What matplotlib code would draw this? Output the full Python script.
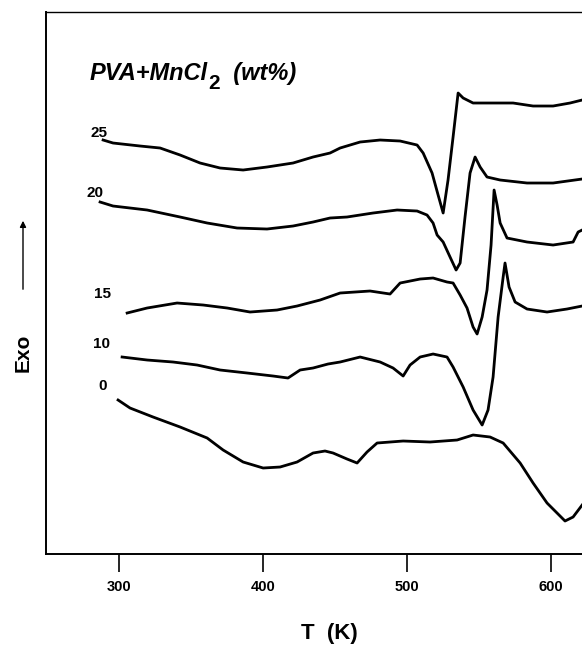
import matplotlib
matplotlib.use("Agg")
import matplotlib.pyplot as plt

plt.rcParams['font.family'] = ['Liberation Sans', 'DejaVu Sans']

# DSC traces of PVA + MnCl2 films (T in K, signal in a.u.)
t_25 = [288.9, 295.8, 314.6, 328.5, 342.4, 356.3, 370.2, 386.2, 402.8, 420.9,
        434.8, 446.6, 453.6, 467.5, 481.4, 495.3, 507.1, 511.3, 517.5, 521.7,
        525.2, 528.6, 532.1, 535.6, 539.1, 546.0, 559.9, 573.8, 587.7, 601.6,
        613.4, 621.8]
s_25 = [414, 411, 408, 406, 399, 391, 386, 384, 387, 391,
        397, 401, 406, 412, 414, 413, 409, 401, 381, 359,
        341, 374, 417, 461, 456, 451, 451, 451, 448, 448,
        451, 454]

t_20 = [286.8, 295.8, 319.5, 342.4, 361.2, 382.0, 402.8, 420.9, 434.8, 446.6,
        458.4, 476.5, 493.2, 507.1, 514.0, 518.2, 521.0, 525.2, 530.0, 534.2,
        537.0, 540.4, 543.9, 547.4, 550.9, 555.7, 564.8, 583.5, 601.6, 621.8]
s_20 = [352, 348, 344, 337, 331, 326, 325, 328, 332, 336,
        337, 341, 344, 343, 339, 331, 319, 312, 297, 284,
        291, 337, 381, 397, 387, 377, 374, 371, 371, 375]

t_15 = [305.6, 319.5, 340.3, 358.4, 375.1, 391.0, 409.8, 423.7, 439.7, 453.6,
        474.4, 488.3, 495.3, 509.2, 518.2, 527.9, 532.1, 537.0, 541.8, 546.0,
        548.8, 552.3, 555.7, 558.5, 560.6, 562.7, 564.8, 569.6, 583.5, 601.6,
        615.5, 619.0, 621.8]
s_15 = [241, 246, 251, 249, 246, 242, 244, 248, 254, 261,
        263, 260, 271, 275, 276, 272, 271, 259, 246, 227,
        220, 237, 264, 309, 364, 349, 331, 316, 312, 309,
        312, 322, 324]

t_10 = [302.1, 319.5, 337.5, 354.2, 370.2, 389.0, 407.0, 417.4, 425.8, 434.8,
        445.2, 453.6, 467.5, 481.4, 490.4, 497.4, 502.2, 509.2, 518.2, 527.9,
        532.1, 539.1, 546.0, 552.3, 556.4, 559.9, 563.4, 566.9, 568.2, 571.0,
        575.2, 583.5, 597.4, 611.3, 621.8]
s_10 = [197, 194, 192, 189, 184, 181, 178, 176, 184, 186,
        190, 192, 197, 192, 186, 178, 189, 197, 200, 197,
        187, 167, 144, 129, 144, 177, 237, 277, 291, 267,
        252, 245, 242, 245, 248]

t_0 = [299.3, 307.6, 323.6, 342.4, 361.2, 372.3, 386.2, 400.1, 411.9, 423.7,
       434.8, 443.1, 448.7, 458.4, 465.4, 472.3, 479.3, 497.4, 516.1, 534.9,
       546.0, 557.8, 566.9, 578.7, 587.7, 597.4, 609.9, 615.5, 621.8]
s_0 = [154, 146, 137, 127, 116, 104, 92, 86, 87, 92,
       101, 103, 101, 95, 91, 102, 111, 113, 112, 114,
       119, 117, 111, 91, 71, 51, 33, 37, 49]

curves = [("25", t_25, s_25), ("20", t_20, s_20), ("15", t_15, s_15),
          ("10", t_10, s_10), ("0", t_0, s_0)]
xticks = [300, 400, 500, 600]

fig = plt.figure(figsize=(5.82, 6.46), dpi=100)
# axes runs past the right edge, like the cropped scan
ax = fig.add_axes([0.0785, 0.1424, 0.9915, 0.839])

for name, t, s in curves:
    ax.plot(t, s, color="black", lw=2.0, solid_joinstyle="round")

# wt% labels just left of each trace start
label_pos = {"25": (286.1, 421), "20": (283.3, 361), "15": (288.2, 260),
             "10": (287.5, 210), "0": (288.9, 168)}
for name, t, s in curves:
    lx, ly = label_pos[name]
    ax.text(lx, ly, name, fontsize=11, fontweight="bold", ha="center", va="center")

ax.set_xlim(249, 650)
ax.set_ylim(0, 542)
ax.set_xticks(xticks)
ax.set_xticklabels([str(v) for v in xticks], fontsize=10.5, fontweight="bold")
ax.set_yticks([])
ax.tick_params(axis="x", direction="out", length=13, width=1.2, pad=6)
ax.spines["left"].set_linewidth(1.4)
ax.spines["bottom"].set_linewidth(1.4)
ax.spines["top"].set_linewidth(1.0)

ax.set_xlabel("T  (K)", fontsize=16, fontweight="bold", va="center")
ax.xaxis.set_label_coords((329 - 45.6) / 577.0, -(633 - 554) / 542)

# title with a separate upright subscript
t1 = fig.text(90 / 582, 1 - 80 / 646, "PVA+MnCl", fontsize=17, fontweight="bold",
              fontstyle="italic", va="baseline")
t2 = ax.annotate("2", xy=(1, 0), xycoords=t1, xytext=(0, -6), textcoords="offset points",
                 fontsize=15, fontweight="bold", ha="left", va="bottom")
ax.annotate("  (wt%)", xy=(1, 0), xycoords=(t2, t1), fontsize=17, fontweight="bold",
            fontstyle="italic", ha="left", va="bottom")

fig.text(23 / 582, 1 - 353 / 646, "Exo", fontsize=15, fontweight="bold",
         rotation=90, ha="center", va="center")
fig.add_artist(matplotlib.patches.FancyArrowPatch(
    (23 / 582, 1 - 292 / 646), (23 / 582, 1 - 218 / 646), transform=fig.transFigure,
    arrowstyle="-|>", mutation_scale=9, lw=1.0, color="black"))

fig.savefig("out.png", dpi=100)
